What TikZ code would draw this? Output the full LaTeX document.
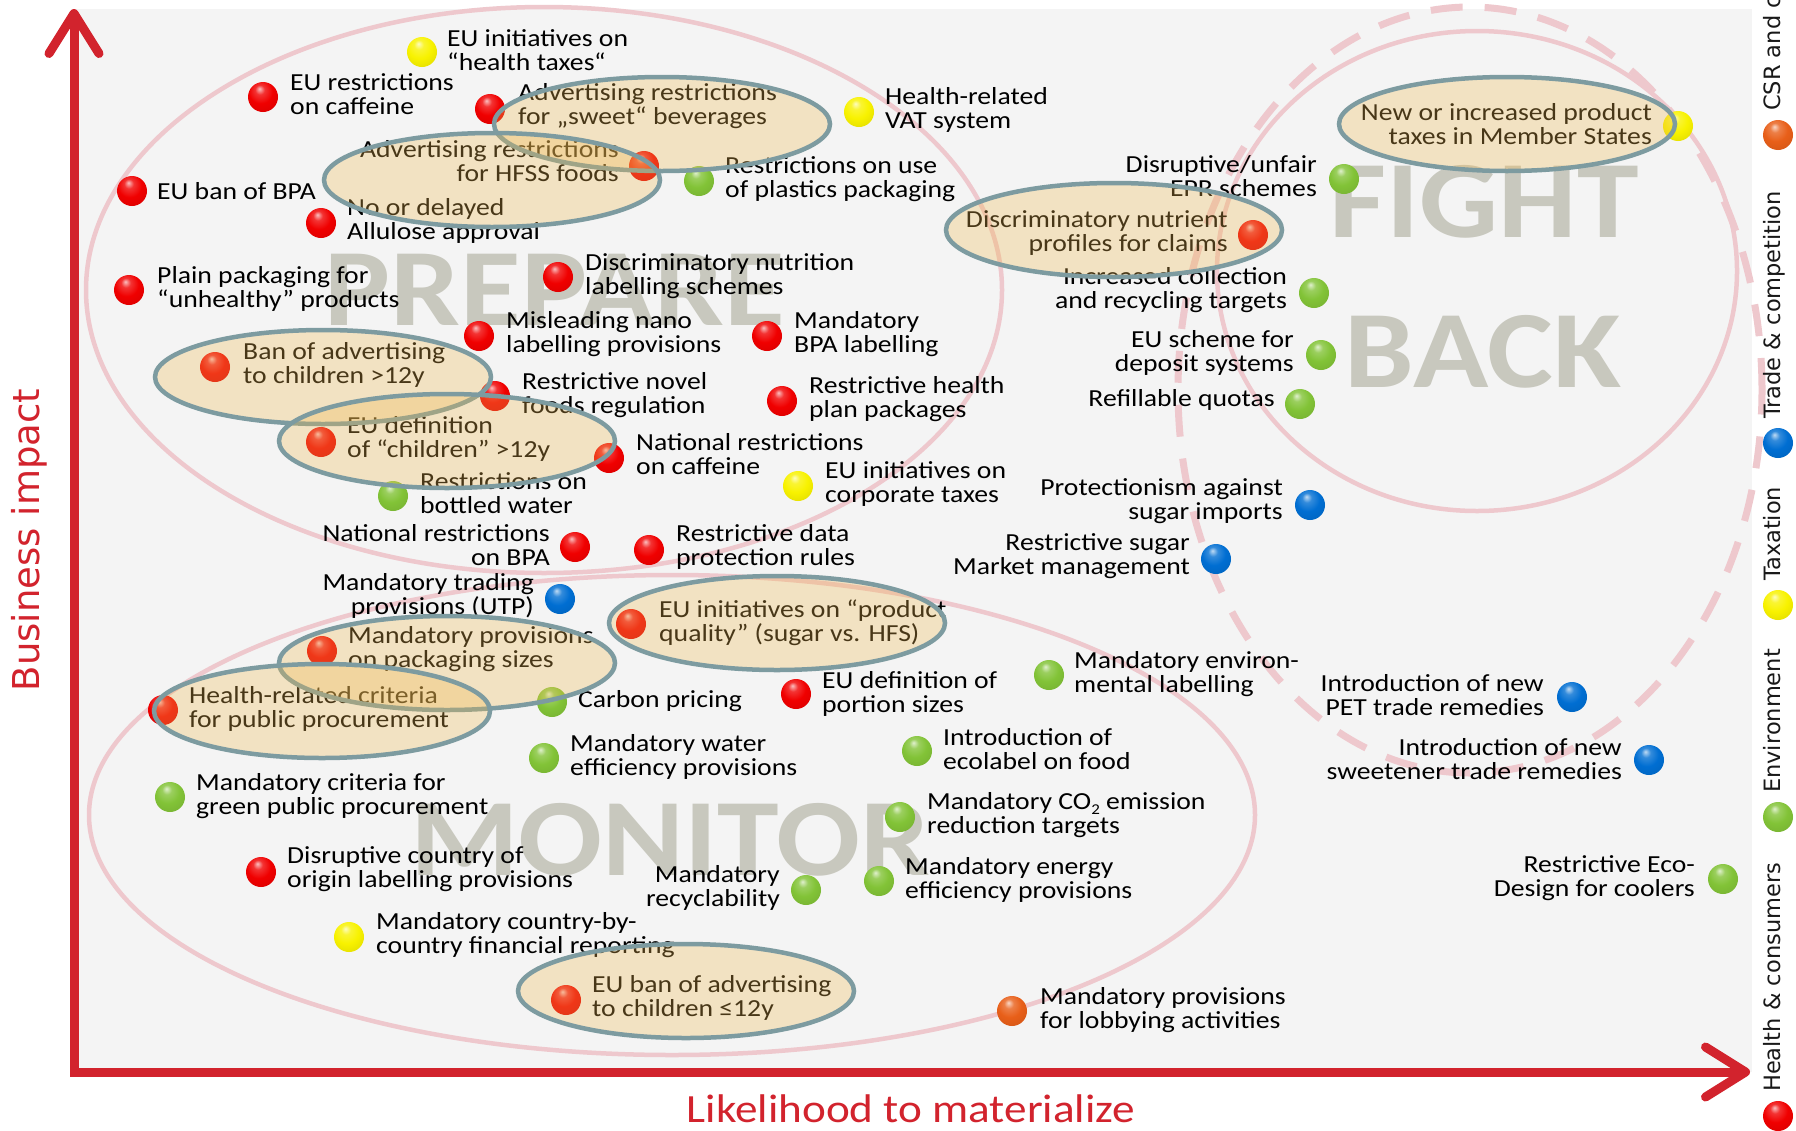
\documentclass[tikz,border=0pt]{standalone}
\usepackage{fontspec}
\setmainfont{Carlito}[FakeStretch=1.13]
\newfontfamily\legfnt{DejaVu Sans}
\usetikzlibrary{shapes.geometric,arrows.meta}
\definecolor{axisred}{RGB}{210,35,45}
\definecolor{pinkline}{RGB}{238,200,205}
\definecolor{hlfill}{RGB}{240,185,80}
\definecolor{hlborder}{RGB}{125,155,160}
\definecolor{wmgray}{RGB}{200,200,190}
\definecolor{bgcol}{RGB}{244,244,244}
\definecolor{cred}{RGB}{240,0,0}
\definecolor{cgreen}{RGB}{130,195,55}
\definecolor{cyellow}{RGB}{248,242,0}
\definecolor{cblue}{RGB}{0,110,210}
\definecolor{corange}{RGB}{232,95,25}
\newcommand\lblfnt{\fontsize{24.5}{24.3}\selectfont}
\newcommand\wmfnt{\fontsize{110}{110}\selectfont\bfseries}
\makeatletter
\pgfdeclareradialshading[tikz@ball]{glossy}{\pgfqpoint{-6bp}{14bp}}{%
  color(0bp)=(tikz@ball!25!white); color(8bp)=(tikz@ball!80!white);
  color(20bp)=(tikz@ball); color(42bp)=(tikz@ball!88!black);
  color(60bp)=(tikz@ball!75!black)}
\makeatother
\begin{document}
\begin{tikzpicture}[x=1pt,y=-1pt,
  dot/.style={circle,inner sep=0pt,minimum size=30pt,ball color=#1,shading=glossy},
  labl/.style={inner sep=0pt,anchor=west,align=left,font=\lblfnt,text=black},
  labr/.style={inner sep=0pt,anchor=east,align=right,font=\lblfnt,text=black},
  hl/.style={ellipse,inner sep=0pt,minimum width=336pt,minimum height=94pt,draw=hlborder,line width=4.5pt,fill=hlfill,fill opacity=0.3},
  region/.style={ellipse,inner sep=0pt,draw=pinkline,line width=4.5pt},
  dashedregion/.style={ellipse,inner sep=0pt,draw=pinkline,line width=7pt,dash pattern=on 32pt off 22pt},
  wm/.style={font=\wmfnt,text=wmgray,inner sep=0pt},
  legtext/.style={font=\legfnt\fontsize{22.5}{24}\selectfont,rotate=90,anchor=mid west,inner sep=0pt,text=black!90},
  axislabel/.style={text=axisred,inner sep=0pt},
  axistip/.tip={Straight Barb[length=40pt,width=50pt,round]}]
\useasboundingbox (0,0) rectangle (1796,1130);
\fill[white] (0,0) rectangle (1796,1130);
\fill[bgcol] (72,9) rectangle (1752,1072);

% watermarks
\node[wm] (wmP) at (555,290) {PREPARE};
\node[wm] (wmM) at (670,840) {MONITOR};
\node[wm] (wmF) at (1484,202) {FIGHT};
\node[wm] (wmB) at (1483,352) {BACK};

% regions
\node[region,minimum width=916pt,minimum height=566pt] (prepare) at (544,290) {};
\node[region,minimum width=1166pt,minimum height=480pt] (monitor) at (672,815) {};
\node[region,minimum width=520pt,minimum height=480pt] (fight) at (1477,271) {};
\node[dashedregion,minimum width=584pt,minimum height=766pt] (fightzone) at (1470,390) {};

% labels
\node[labl] (t1) at (447,50) {EU initiatives on\\“health taxes“};
\node[labl] (t2) at (290,94) {EU restrictions\\on caffeine};
\node[labl] (t3) at (518,106) {Advertising restrictions\\for „sweet“ beverages};
\node[labl] (t4) at (885,110) {Health-related\\VAT system};
\node[labr] (t5) at (619,161) {Advertising restrictions\\for HFSS foods};
\node[labl] (t6) at (725,179) {Restrictions on use\\of plastics packaging};
\node[labl] (t7) at (157,191) {EU ban of BPA};
\node[labl] (t8) at (347,221) {No or delayed\\Allulose approval};
\node[labl] (t9) at (157,289) {Plain packaging for\\“unhealthy” products};
\node[labl] (t10) at (585,276) {Discriminatory nutrition\\labelling schemes};
\node[labl] (t11) at (506,334) {Misleading nano\\labelling provisions};
\node[labl] (t12) at (794,334) {Mandatory\\BPA labelling};
\node[labl] (t13) at (243,365) {Ban of advertising\\to children >12y};
\node[labl] (t14) at (522,395) {Restrictive novel\\foods regulation};
\node[labl] (t15) at (809,399) {Restrictive health\\plan packages};
\node[labl] (t16) at (347,439) {EU definition\\of “children” >12y};
\node[labl] (t17) at (636,454) {National restrictions\\on caffeine};
\node[labl] (t18) at (420,493) {Restrictions on\\bottled water};
\node[labl] (t19) at (825,484) {EU initiatives on\\corporate taxes};
\node[labr] (t20) at (550,545) {National restrictions\\on BPA};
\node[labl] (t21) at (676,547) {Restrictive data\\protection rules};
\node[labr] (t22) at (534,596) {Mandatory trading\\provisions (UTP)};
\node[labl] (t23) at (659,623) {EU initiatives on “product\\quality” (sugar vs. HFS)};
\node[labl] (t24) at (348,649) {Mandatory provisions\\on packaging sizes};
\node[labl] (t25) at (189,709) {Health-related criteria\\for public procurement};
\node[labl] (t26) at (578,701) {Carbon pricing};
\node[labl] (t27) at (822,694) {EU definition of\\portion sizes};
\node[labl] (t28) at (1074,674) {Mandatory environ-\\mental labelling};
\node[labr] (t29) at (1544,695) {Introduction of new\\PET trade remedies};
\node[labl] (t30) at (570,757) {Mandatory water\\efficiency provisions};
\node[labl] (t31) at (943,749) {Introduction of\\ecolabel on food};
\node[labr] (t32) at (1622,759) {Introduction of new\\sweetener trade remedies};
\node[labl] (t33) at (196,796) {Mandatory criteria for\\green public procurement};
\node[labl] (t34) at (927,815) {Mandatory CO\raisebox{-5pt}{\fontsize{15}{15}\selectfont 2} emission\\reduction targets};
\node[labl] (t35) at (287,869) {Disruptive country of\\origin labelling provisions};
\node[labr] (t36) at (780,888) {Mandatory\\recyclability};
\node[labl] (t37) at (905,880) {Mandatory energy\\efficiency provisions};
\node[labr] (t38) at (1695,878) {Restrictive Eco-\\Design for coolers};
\node[labl] (t39) at (376,935) {Mandatory country-by-\\country financial reporting};
\node[labl] (t40) at (592,998) {EU ban of advertising\\to children ≤12y};
\node[labl] (t41) at (1040,1010) {Mandatory provisions\\for lobbying activities};
\node[labr] (t42) at (1652,124) {New or increased product\\taxes in Member States};
\node[labr] (t43) at (1317,176) {Disruptive/unfair\\EPR schemes};
\node[labr] (t44) at (1228,233) {Discriminatory nutrient\\profiles for claims};
\node[labr] (t45) at (1287,290) {Increased collection\\and recycling targets};
\node[labr] (t46) at (1294,353) {EU scheme for\\deposit systems};
\node[labr] (t47) at (1275,400) {Refillable quotas};
\node[labr] (t48) at (1283,501) {Protectionism against\\sugar imports};
\node[labr] (t49) at (1190,556) {Restrictive sugar\\Market management};

% balls
\node[dot=cyellow] (b1) at (422,52) {};
\node[dot=cred] (b2) at (263,97) {};
\node[dot=cred] (b3) at (490,109) {};
\node[dot=cyellow] (b4) at (859,112) {};
\node[dot=cred] (b5) at (644,166) {};
\node[dot=cgreen] (b6) at (699,181) {};
\node[dot=cred] (b7) at (132,191) {};
\node[dot=cred] (b8) at (321,223) {};
\node[dot=cred] (b9) at (129,290) {};
\node[dot=cred] (b10) at (558,277) {};
\node[dot=cred] (b11) at (479,336) {};
\node[dot=cred] (b12) at (767,336) {};
\node[dot=cred] (b13) at (215,367) {};
\node[dot=cred] (b14) at (495,396) {};
\node[dot=cred] (b15) at (782,401) {};
\node[dot=cred] (b16) at (321,442) {};
\node[dot=cred] (b17) at (609,458) {};
\node[dot=cgreen] (b18) at (393,496) {};
\node[dot=cyellow] (b19) at (798,486) {};
\node[dot=cred] (b20) at (575,547) {};
\node[dot=cred] (b21) at (649,550) {};
\node[dot=cblue] (b22) at (560,599) {};
\node[dot=cred] (b23) at (631,624) {};
\node[dot=cred] (b24) at (322,651) {};
\node[dot=cred] (b25) at (163,710) {};
\node[dot=cgreen] (b26) at (552,702) {};
\node[dot=cred] (b27) at (796,694) {};
\node[dot=cgreen] (b28) at (1049,675) {};
\node[dot=cblue] (b29) at (1572,697) {};
\node[dot=cgreen] (b30) at (544,758) {};
\node[dot=cgreen] (b31) at (917,751) {};
\node[dot=cblue] (b32) at (1649,760) {};
\node[dot=cgreen] (b33) at (170,797) {};
\node[dot=cgreen] (b34) at (900,817) {};
\node[dot=cred] (b35) at (261,872) {};
\node[dot=cgreen] (b36) at (806,890) {};
\node[dot=cgreen] (b37) at (879,881) {};
\node[dot=cgreen] (b38) at (1723,879) {};
\node[dot=cyellow] (b39) at (349,937) {};
\node[dot=cred] (b40) at (566,1000) {};
\node[dot=corange] (b41) at (1012,1011) {};
\node[dot=cyellow] (b42) at (1678,126) {};
\node[dot=cgreen] (b43) at (1344,179) {};
\node[dot=cred] (b44) at (1253,235) {};
\node[dot=cgreen] (b45) at (1314,293) {};
\node[dot=cgreen] (b46) at (1321,355) {};
\node[dot=cgreen] (b47) at (1300,404) {};
\node[dot=cblue] (b48) at (1310,505) {};
\node[dot=cblue] (b49) at (1216,559) {};

% highlights
\node[hl] (h1) at (662,124) {};
\node[hl] (h2) at (492,180) {};
\node[hl] (h3) at (323,377) {};
\node[hl] (h4) at (447,441) {};
\node[hl] (h5) at (1114,230) {};
\node[hl] (h6) at (1507,124) {};
\node[hl] (h7) at (777,623) {};
\node[hl] (h8) at (447,663) {};
\node[hl] (h9) at (322,711) {};
\node[hl] (h10) at (686,991) {};

% axes
\coordinate (ytip) at (74,9);
\coordinate (origin) at (74,1072);
\coordinate (xtip) at (1750,1072);
\draw[line width=9pt,axisred,{axistip}-{axistip}] (ytip) -- (origin) -- (xtip);
\node[axislabel,font=\fontsize{40}{40}\selectfont] (xlab) at (911,1109) {Likelihood to materialize};
\node[axislabel,font=\legfnt\fontsize{37}{37}\selectfont,rotate=90] (ylab) at (29,540) {Business impact};

% legend
\node[dot=cred] (l1) at (1778,1116) {};
\node[legtext] (lt1) at (1778,1092) {Health \& consumers};
\node[dot=cgreen] (l2) at (1778,817) {};
\node[legtext] (lt2) at (1778,793) {Environment};
\node[dot=cyellow] (l3) at (1778,605) {};
\node[legtext] (lt3) at (1778,581) {Taxation};
\node[dot=cblue] (l4) at (1778,443) {};
\node[legtext] (lt4) at (1778,419) {Trade \& competition};
\node[dot=corange] (l5) at (1778,135) {};
\node[legtext] (lt5) at (1778,111) {CSR and c};
\end{tikzpicture}
\end{document}
